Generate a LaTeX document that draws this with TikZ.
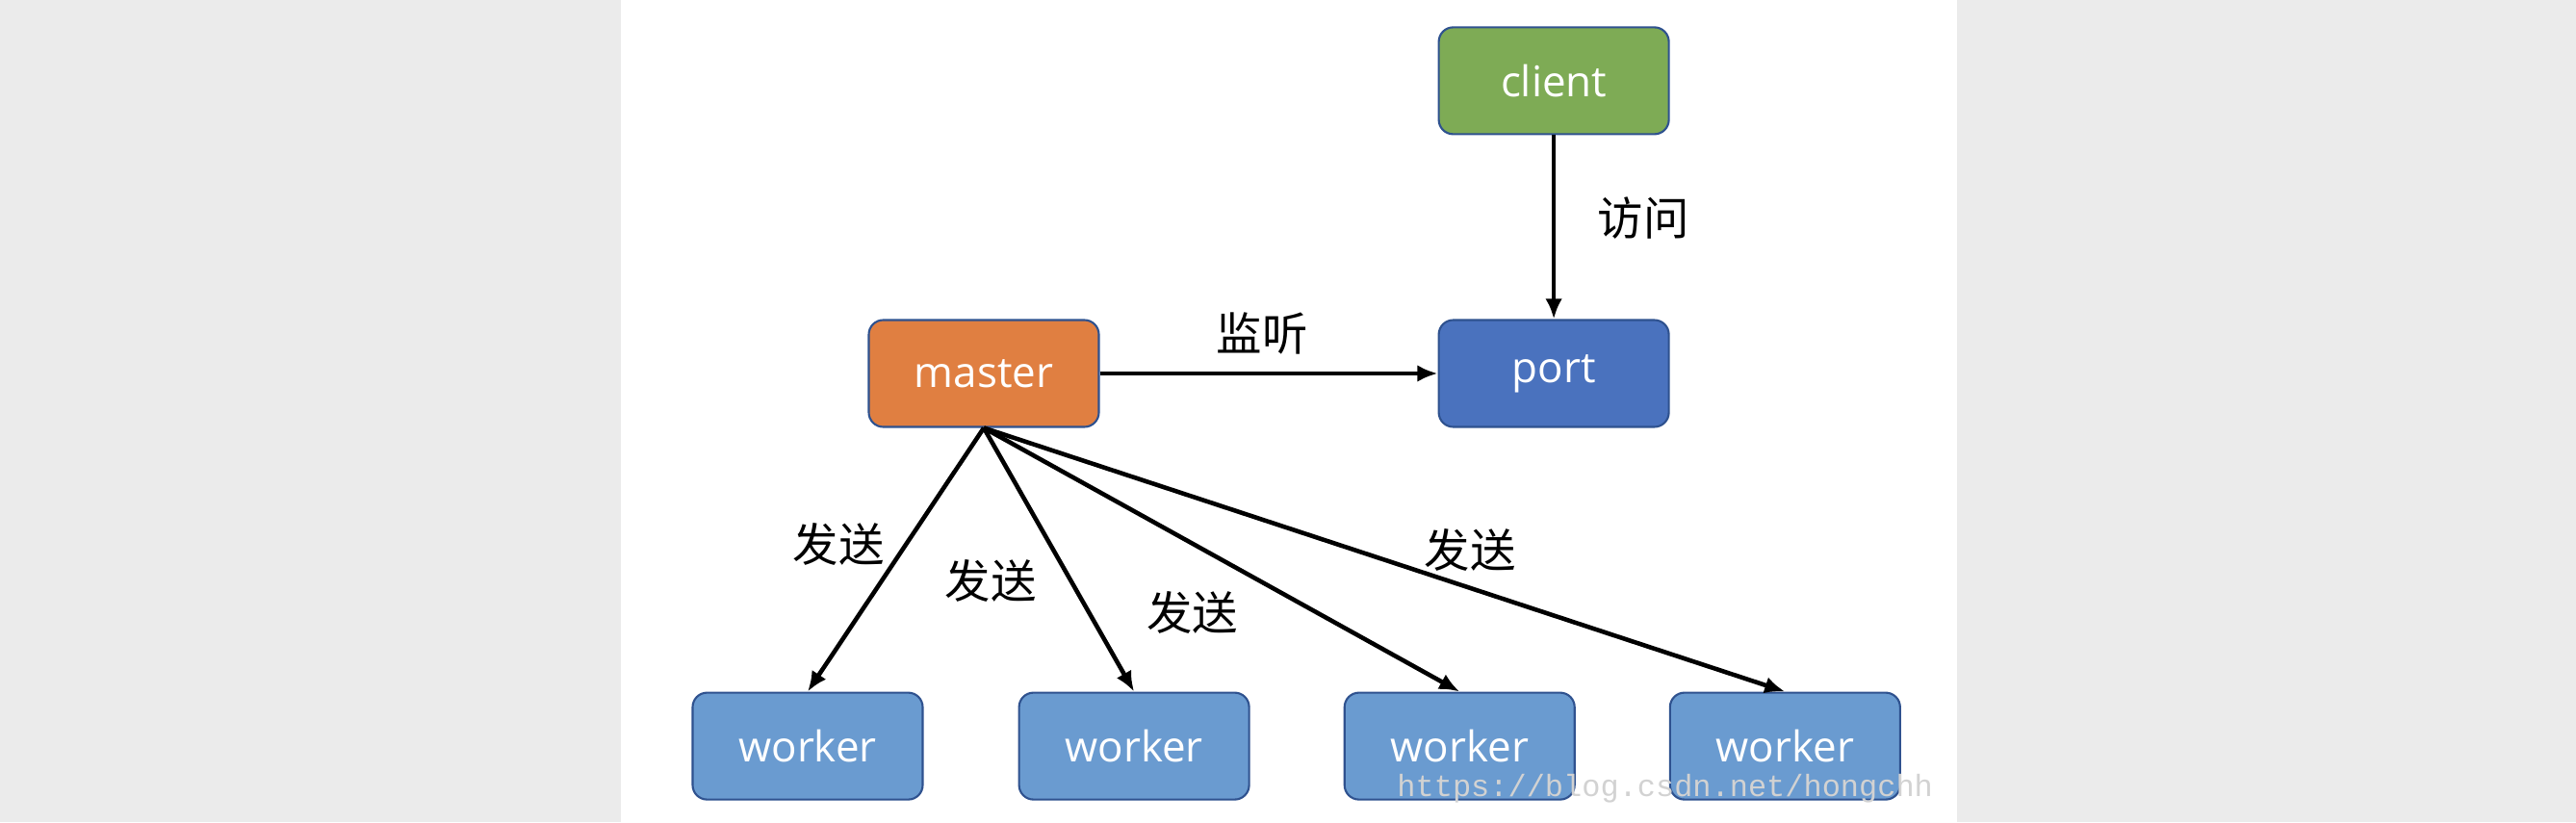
\documentclass[tikz,border=0pt]{standalone}
\usepackage{fontspec}
\setmainfont{Open Sans}
\newfontfamily\cjk{Noto Sans CJK SC}
\newfontfamily\markfont{Liberation Mono}
\usepackage{xcolor}
\usepackage{tikz}
\usetikzlibrary{arrows.meta, positioning}
\definecolor{clientgreen}{HTML}{7EAB55}
\definecolor{masterorange}{HTML}{E07F41}
\definecolor{portblue}{HTML}{4A72BE}
\definecolor{workerblue}{HTML}{6A9BD0}
\definecolor{edgeblue}{HTML}{2F528F}
\definecolor{pagegray}{HTML}{EBEBEB}
\definecolor{markgray}{HTML}{D2D2D2}
\tikzstyle{box} = [rectangle, rounded corners=0.15cm, minimum width=2.39cm, minimum height=1.11cm, draw=edgeblue, line width=0.6pt, text=white, font=\fontsize{12.5}{15}\selectfont]
\tikzstyle{arrow} = [line width=1.3pt, -{Latex[length=6pt, width=5pt]}]
\tikzstyle{lbl} = [inner sep=1pt, font=\cjk\fontsize{13.5}{16}\selectfont]

\begin{document}
\begin{tikzpicture}
% page
\fill[pagegray] (0,0) rectangle (26.76,8.54);
\fill[white] (6.45,0) rectangle (20.33,8.54);
\useasboundingbox (0,0) rectangle (26.76,8.54);

\node (master) [box, fill=masterorange] at (10.22,4.66) {master};
\node (port) [box, fill=portblue, right=3.51cm of master] {port};
\node (client) [box, fill=clientgreen, above=1.91cm of port] {client};
\node (worker1) [box, fill=workerblue, below=2.74cm of master, xshift=-1.83cm] {worker};
\node (worker2) [box, fill=workerblue, right=0.98cm of worker1] {worker};
\node (worker3) [box, fill=workerblue, right=0.97cm of worker2] {worker};
\node (worker4) [box, fill=workerblue, right=0.97cm of worker3] {worker};

\draw [arrow] (client) -- node[lbl, right=0.4cm, pos=0.45] {访问} (port);
\draw [arrow] (master) -- node[lbl, above=0.14cm, pos=0.48] {监听} (port);
\draw [arrow] (master.south) -- node[lbl, left=0.17cm, pos=0.44] {发送} (worker1.north);
\draw [arrow] (master.south) -- node[lbl, left=0.3cm, pos=0.58] {发送} (worker2.north);
\draw [arrow] (master.south) -- node[lbl, left=0.76cm, pos=0.70] {发送} (worker3.north);
\draw [arrow] (master.south) -- node[lbl, above=0.12cm, pos=0.607] {发送} (worker4.north);

% watermark
\node (mark) [anchor=west, text=markgray, font=\markfont\fontsize{9.1}{11}\selectfont] at (14.39,0.35) {https://blog.csdn.net/hongchh};
\end{tikzpicture}
\end{document}
